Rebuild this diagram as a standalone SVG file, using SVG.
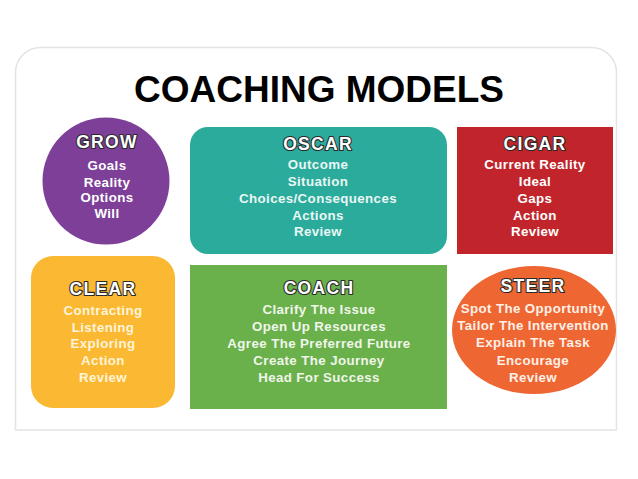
<svg xmlns="http://www.w3.org/2000/svg" width="638" height="479" viewBox="0 0 638 479">
<defs>
<style>
.card{fill:#ffffff;stroke:#e4e4e4;stroke-width:1.5}
.title{font-family:"Liberation Sans",Arial,sans-serif;font-weight:bold;font-size:37px;fill:#000000;text-anchor:middle}
.head{font-family:"Liberation Sans",Arial,sans-serif;font-weight:bold;font-size:17.5px;fill:#ffffff;stroke:#2a2a2a;stroke-width:2.2;paint-order:stroke;stroke-linejoin:round;text-anchor:middle;letter-spacing:1.3px}
.item{font-family:"Liberation Sans",Arial,sans-serif;font-weight:bold;font-size:13.3px;text-anchor:middle;letter-spacing:0.4px}
</style>
</defs>
<rect width="638" height="479" fill="#ffffff"/>
<path class="card" d="M15.5 430 V72 A25 25 0 0 1 40.5 47.5 H591.5 A25 25 0 0 1 616.5 72 V430 Z"/>
<text class="title" x="319" y="102">COACHING MODELS</text>
<g id="connectors"></g>
<g id="grow">
<circle cx="106" cy="181" r="63.5" fill="#7d3f98"/>
<text class="head" x="107" y="148">GROW</text>
<g class="item" fill="#ffffff">
<text x="107" y="170">Goals</text>
<text x="107" y="186.5">Reality</text>
<text x="107" y="202">Options</text>
<text x="107" y="218">Will</text>
</g>
</g>
<g id="oscar">
<rect x="190" y="127" width="257" height="127" rx="18" fill="#2aab9c"/>
<text class="head" x="318" y="150">OSCAR</text>
<g class="item" fill="#eaf7f4">
<text x="318" y="169">Outcome</text>
<text x="318" y="186">Situation</text>
<text x="318" y="203">Choices/Consequences</text>
<text x="318" y="219.5">Actions</text>
<text x="318" y="236">Review</text>
</g>
</g>
<g id="cigar">
<rect x="457" y="127" width="156" height="127" fill="#c1252b"/>
<text class="head" x="535" y="150">CIGAR</text>
<g class="item" fill="#ffffff">
<text x="535" y="169">Current Reality</text>
<text x="535" y="186">Ideal</text>
<text x="535" y="203">Gaps</text>
<text x="535" y="219.5">Action</text>
<text x="535" y="236">Review</text>
</g>
</g>
<g id="clear">
<rect x="31" y="256" width="144" height="152" rx="22" fill="#fbb832"/>
<text class="head" x="103" y="295">CLEAR</text>
<g class="item" fill="#fff4d8">
<text x="103" y="315">Contracting</text>
<text x="103" y="332">Listening</text>
<text x="103" y="348">Exploring</text>
<text x="103" y="365">Action</text>
<text x="103" y="382">Review</text>
</g>
</g>
<g id="coach">
<rect x="190" y="265" width="257" height="144" fill="#6ab04b"/>
<text class="head" x="319" y="294">COACH</text>
<g class="item" fill="#f0f6ea">
<text x="319" y="314">Clarify The Issue</text>
<text x="319" y="331">Open Up Resources</text>
<text x="319" y="348">Agree The Preferred Future</text>
<text x="319" y="365">Create The Journey</text>
<text x="319" y="382">Head For Success</text>
</g>
</g>
<g id="steer">
<ellipse cx="534" cy="330" rx="82" ry="64" fill="#ee6631"/>
<text class="head" x="533" y="292">STEER</text>
<g class="item" fill="#fff0e8">
<text x="533" y="313">Spot The Opportunity</text>
<text x="533" y="330">Tailor The Intervention</text>
<text x="533" y="347">Explain The Task</text>
<text x="533" y="365">Encourage</text>
<text x="533" y="382">Review</text>
</g>
</g>
</svg>
